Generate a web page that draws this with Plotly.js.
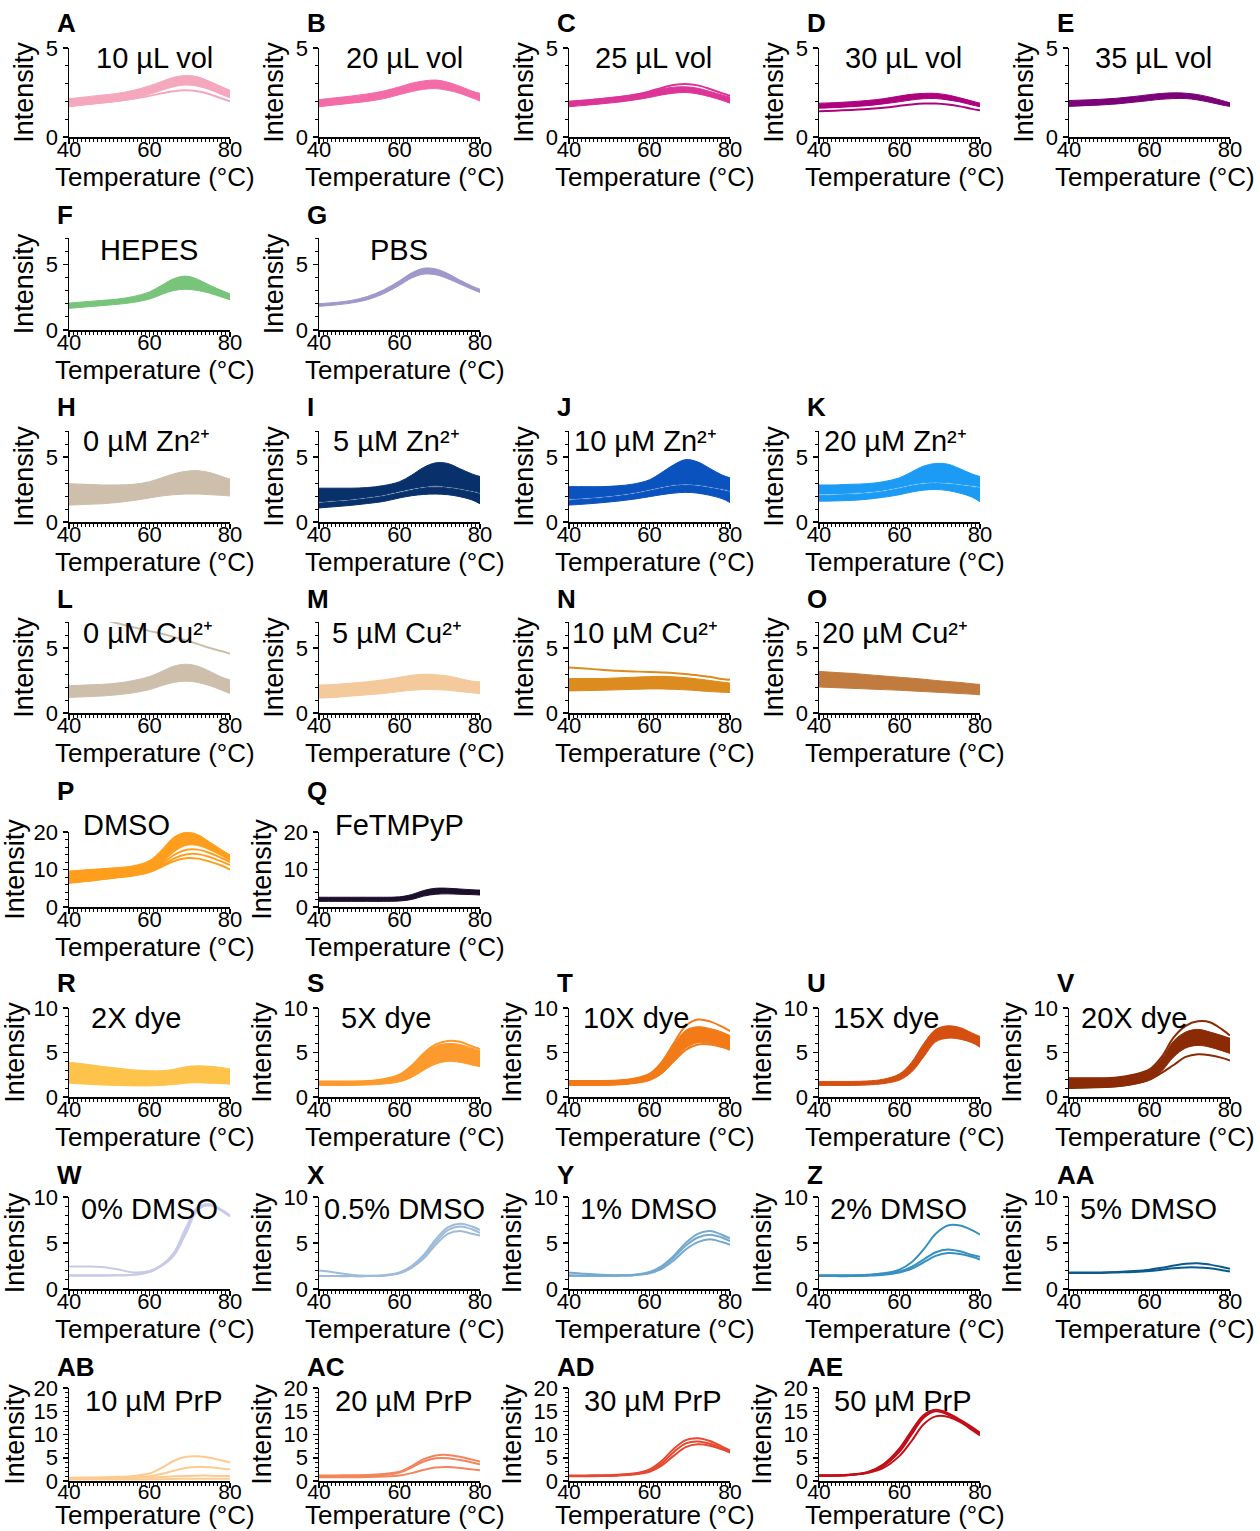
<!DOCTYPE html>
<html><head><meta charset="utf-8">
<script src="https://cdn.plot.ly/plotly-3.0.1.min.js"></script>
<style>body{margin:0;background:#fff}#chart{width:1260px;height:1531px}</style>
</head><body><div id="chart"></div>
<script>
// ---------- DATA ----------
const temps = [40,44,48,52,56,60,63,66,69,72,75,78,80];

const bandsA = [[[1.70,1.80,1.90,2.00,2.15,2.40,2.62,2.82,2.92,2.85,2.65,2.38,2.20],[2.15,2.25,2.35,2.45,2.62,2.88,3.12,3.35,3.45,3.38,3.12,2.82,2.62]]];
const linesA = [[1.78,1.86,1.94,2.03,2.15,2.31,2.45,2.57,2.62,2.57,2.40,2.16,2.00]];
const bandsB = [[[1.70,1.80,1.90,2.00,2.15,2.38,2.55,2.68,2.72,2.62,2.45,2.20,2.02],[2.10,2.20,2.30,2.42,2.58,2.82,3.02,3.15,3.20,3.08,2.85,2.58,2.45]]];
const linesB = [];
const bandsC = [[[1.70,1.78,1.86,1.95,2.07,2.22,2.36,2.46,2.50,2.42,2.26,2.06,1.90],[2.00,2.07,2.15,2.25,2.37,2.55,2.70,2.80,2.82,2.74,2.56,2.36,2.24]]];
const linesC = [[1.98,2.05,2.13,2.23,2.36,2.56,2.76,2.92,2.98,2.90,2.70,2.46,2.32]];
const bandsD = [[[1.62,1.65,1.70,1.76,1.86,1.98,2.08,2.15,2.16,2.08,1.97,1.80,1.70],[1.90,1.93,1.98,2.05,2.15,2.30,2.40,2.45,2.45,2.36,2.20,2.02,1.90]]];
const linesD = [[1.45,1.48,1.52,1.57,1.65,1.75,1.83,1.88,1.88,1.82,1.72,1.58,1.50]];
const bandsE = [[[1.72,1.76,1.80,1.86,1.95,2.05,2.12,2.16,2.16,2.08,1.95,1.80,1.72],[2.05,2.08,2.12,2.18,2.27,2.38,2.45,2.48,2.46,2.38,2.24,2.05,1.92]]];
const linesE = [];
const bandsF = [[[1.65,1.75,1.85,1.95,2.10,2.35,2.70,3.00,3.10,3.00,2.80,2.50,2.30],[2.05,2.15,2.25,2.35,2.55,2.90,3.40,3.90,4.10,3.85,3.40,3.00,2.75]]];
const linesF = [];
const bandsG = [[[1.80,1.90,2.05,2.30,2.75,3.40,3.95,4.25,4.20,3.90,3.50,3.10,2.85],[2.00,2.10,2.25,2.55,3.05,3.75,4.35,4.70,4.65,4.30,3.80,3.35,3.10]]];
const linesG = [];
const bandsH = [[[1.30,1.35,1.40,1.50,1.65,1.85,2.00,2.10,2.15,2.15,2.10,2.05,2.00],[2.95,2.90,2.85,2.85,2.90,3.10,3.40,3.70,3.90,3.95,3.80,3.50,3.30]]];
const linesH = [];
const bandsI = [[[1.08,1.18,1.28,1.42,1.58,1.85,2.02,2.12,2.15,2.10,1.95,1.70,1.40],[1.45,1.55,1.65,1.80,1.98,2.25,2.45,2.62,2.68,2.62,2.48,2.30,2.15]],
                [[1.55,1.65,1.75,1.90,2.08,2.36,2.56,2.72,2.78,2.72,2.58,2.40,2.25],[2.60,2.60,2.60,2.65,2.80,3.10,3.60,4.20,4.55,4.50,4.10,3.70,3.50]]];
const linesI = [];
const bandsJ = [[[1.30,1.38,1.48,1.60,1.75,1.95,2.10,2.22,2.28,2.22,2.05,1.80,1.50],[1.68,1.75,1.85,1.98,2.15,2.40,2.60,2.76,2.82,2.76,2.62,2.45,2.30]],
                [[1.78,1.85,1.95,2.08,2.25,2.50,2.70,2.86,2.92,2.86,2.72,2.55,2.40],[2.72,2.72,2.72,2.78,2.92,3.25,3.80,4.40,4.80,4.62,4.12,3.62,3.40]]];
const linesJ = [];
const bandsK = [[[1.60,1.62,1.66,1.75,1.90,2.10,2.30,2.45,2.50,2.42,2.22,1.92,1.55],[2.05,2.08,2.12,2.20,2.35,2.58,2.78,2.92,2.96,2.92,2.82,2.70,2.62]],
                [[2.15,2.18,2.22,2.30,2.45,2.68,2.88,3.02,3.06,3.02,2.92,2.80,2.72],[2.85,2.85,2.90,2.95,3.10,3.40,3.85,4.30,4.50,4.45,4.10,3.70,3.50]]];
const linesK = [];
const bandsL = [[[1.20,1.25,1.30,1.40,1.55,1.80,2.10,2.35,2.45,2.35,2.10,1.75,1.50],[2.10,2.15,2.20,2.30,2.50,2.80,3.20,3.60,3.75,3.60,3.20,2.75,2.55]]];
const linesL = [[7.80,7.50,7.20,6.90,6.60,6.30,6.10,5.85,5.60,5.30,5.00,4.75,4.55]];
const bandsM = [[[1.15,1.20,1.30,1.40,1.50,1.65,1.75,1.80,1.80,1.75,1.65,1.55,1.50],[2.15,2.20,2.30,2.40,2.55,2.75,2.90,2.98,2.95,2.85,2.65,2.45,2.40]]];
const linesM = [];
const bandsN = [[[1.70,1.72,1.75,1.78,1.82,1.85,1.85,1.82,1.78,1.72,1.65,1.60,1.58],[2.65,2.65,2.65,2.70,2.75,2.80,2.82,2.78,2.72,2.62,2.50,2.38,2.30]]];
const linesN = [[3.50,3.42,3.33,3.25,3.20,3.15,3.12,3.08,3.00,2.90,2.78,2.62,2.55]];
const bandsO = [[[2.00,1.95,1.90,1.85,1.80,1.75,1.70,1.65,1.60,1.55,1.50,1.45,1.40],[3.20,3.12,3.05,2.95,2.85,2.75,2.68,2.60,2.50,2.42,2.35,2.25,2.20]]];
const linesO = [];
const bandsP = [[[6.30,6.80,7.30,7.80,8.40,9.60,11.6,14.6,16.4,16.4,15.2,13.6,12.4],[9.60,9.90,10.2,10.5,11.0,12.4,15.2,18.6,19.9,19.3,17.3,15.2,13.9]]];
const linesP = [[7.00,7.40,7.80,8.20,8.70,9.60,11.4,13.8,15.2,15.3,14.4,13.0,12.0],
                [6.80,7.20,7.60,8.00,8.50,9.50,11.0,12.9,14.0,14.1,13.3,12.1,11.2],
                [6.50,6.90,7.40,7.90,8.40,9.30,10.7,12.2,13.0,12.9,12.1,11.0,10.0]];
const bandsQ = [[[1.50,1.50,1.50,1.50,1.50,1.60,2.00,2.90,3.40,3.50,3.40,3.30,3.20],[2.60,2.60,2.60,2.60,2.60,2.70,3.30,4.40,5.00,5.00,4.80,4.60,4.50]]];
const linesQ = [];
const bandsR = [[[1.55,1.45,1.35,1.30,1.25,1.25,1.30,1.40,1.55,1.60,1.55,1.50,1.45],[3.90,3.70,3.45,3.25,3.05,2.95,2.95,3.10,3.40,3.50,3.45,3.30,3.15]]];
const linesR = [];
const bandsS = [[[1.30,1.30,1.30,1.35,1.45,1.70,2.20,3.00,3.70,4.00,3.90,3.60,3.40],[1.75,1.75,1.75,1.80,2.00,2.50,3.50,4.80,5.70,6.00,5.90,5.50,5.20]]];
const linesS = [[1.75,1.75,1.75,1.80,2.00,2.50,3.50,4.90,5.90,6.30,6.20,5.70,5.40]];
const bandsT = [[[1.30,1.30,1.30,1.35,1.50,1.85,2.60,4.00,5.50,6.10,6.00,5.70,5.40],[1.80,1.80,1.80,1.85,2.05,2.60,3.80,5.80,7.50,7.90,7.70,7.30,6.90]]];
const linesT = [[1.80,1.80,1.80,1.85,2.05,2.60,3.90,6.00,8.00,8.70,8.50,7.90,7.40],
                [1.40,1.40,1.40,1.45,1.60,1.95,2.70,4.00,5.30,5.90,5.90,5.60,5.30]];
const bandsU = [[[1.30,1.30,1.30,1.35,1.50,1.90,2.80,4.50,6.20,6.60,6.50,6.10,5.60],[1.75,1.75,1.75,1.80,2.00,2.60,3.90,6.00,7.60,8.00,7.80,7.20,6.80]]];
const linesU = [];
const bandsV = [[[0.95,1.00,1.05,1.15,1.40,1.90,2.90,4.50,5.50,5.80,5.60,5.20,4.90],[2.10,2.10,2.10,2.20,2.50,3.10,4.30,6.30,7.30,7.60,7.30,6.90,6.60]]];
const linesV = [[2.10,2.10,2.10,2.20,2.50,3.10,4.50,6.70,8.00,8.50,8.40,7.60,6.90],
                [1.10,1.10,1.15,1.25,1.50,1.95,2.70,3.60,4.50,4.80,4.70,4.40,4.10]];
const bandsW = [];
const linesW = [[2.45,2.45,2.40,2.15,1.80,1.95,2.60,3.90,6.60,8.90,9.20,8.50,7.90],
                [1.45,1.45,1.45,1.50,1.55,1.85,2.50,3.60,6.00,8.60,9.10,8.60,8.00],
                [1.50,1.50,1.50,1.50,1.55,1.90,2.55,3.70,6.30,8.80,9.10,8.50,7.90]];
const bandsX = [];
const linesX = [[2.00,1.80,1.55,1.45,1.50,1.80,2.50,3.70,5.40,6.70,7.10,6.80,6.40],
                [1.45,1.40,1.40,1.40,1.45,1.75,2.40,3.50,5.10,6.40,6.80,6.50,6.10],
                [1.40,1.40,1.40,1.40,1.45,1.70,2.30,3.30,4.80,6.00,6.30,6.00,5.80]];
const bandsY = [];
const linesY = [[1.80,1.65,1.55,1.50,1.55,1.85,2.50,3.60,5.00,6.00,6.30,5.90,5.50],
                [1.50,1.45,1.45,1.45,1.50,1.75,2.35,3.40,4.70,5.60,5.90,5.60,5.20],
                [1.45,1.45,1.45,1.45,1.50,1.70,2.20,3.10,4.30,5.10,5.40,5.10,4.80]];
const bandsZ = [];
const linesZ = [[1.50,1.50,1.50,1.55,1.70,2.10,2.90,4.30,6.00,6.90,6.90,6.40,5.90],
                [1.45,1.45,1.45,1.50,1.60,1.90,2.40,3.20,4.00,4.30,4.10,3.70,3.50],
                [1.40,1.40,1.40,1.45,1.55,1.80,2.20,2.90,3.60,3.90,3.80,3.50,3.20]];
const bandsAA = [];
const linesAA = [[1.80,1.80,1.80,1.85,1.95,2.10,2.30,2.55,2.75,2.80,2.65,2.40,2.20],
                 [1.75,1.75,1.75,1.80,1.85,1.95,2.10,2.25,2.35,2.35,2.25,2.05,1.90]];
const bandsAB = [];
const linesAB = [[0.70,0.75,0.80,0.90,1.10,1.60,2.80,4.30,5.20,5.30,5.00,4.40,4.00],
                 [0.60,0.62,0.65,0.70,0.80,1.00,1.50,2.20,2.80,3.00,2.95,2.70,2.50],
                 [0.50,0.52,0.55,0.60,0.65,0.75,0.85,1.00,1.10,1.15,1.15,1.10,1.05],
                 [0.30,0.30,0.30,0.30,0.32,0.35,0.40,0.45,0.50,0.50,0.50,0.50,0.50]];
const bandsAC = [];
const linesAC = [[1.20,1.20,1.25,1.30,1.50,2.00,3.20,4.70,5.50,5.60,5.20,4.60,4.20],
                 [1.00,1.00,1.05,1.10,1.30,1.80,2.90,4.20,4.90,4.90,4.50,4.00,3.60],
                 [0.80,0.80,0.80,0.85,0.95,1.20,1.70,2.40,2.90,3.00,2.80,2.50,2.30]];
const bandsAD = [];
const linesAD = [[1.20,1.20,1.25,1.35,1.60,2.50,4.30,6.90,8.80,9.20,8.60,7.40,6.60],
                 [1.10,1.10,1.15,1.25,1.50,2.20,3.80,6.20,8.10,8.50,8.00,7.00,6.30],
                 [1.00,1.00,1.05,1.15,1.40,2.00,3.30,5.40,7.30,7.90,7.60,6.80,6.10]];
const bandsAE = [];
const linesAE = [[1.20,1.20,1.40,1.90,3.60,7.00,10.8,14.2,15.3,14.6,13.2,11.6,10.4],
                 [1.20,1.20,1.35,1.80,3.20,6.30,10.0,13.6,15.0,14.3,13.0,11.3,10.2],
                 [1.15,1.15,1.30,1.70,2.80,5.40,8.60,12.2,13.9,13.8,12.7,11.0,9.80],
                 [1.20,1.20,1.35,1.85,3.40,6.60,10.4,13.9,15.2,14.4,13.0,11.4,10.1]];

const panelLetters = ['A','B','C','D','E','F','G','H','I','J','K','L','M','N','O','P','Q','R','S','T','U','V','W','X','Y','Z','AA','AB','AC','AD','AE'];
const panelTitles = ['10 µL vol','20 µL vol','25 µL vol','30 µL vol','35 µL vol','HEPES','PBS',
  '0 µM Zn²⁺','5 µM Zn²⁺','10 µM Zn²⁺','20 µM Zn²⁺',
  '0 µM Cu²⁺','5 µM Cu²⁺','10 µM Cu²⁺','20 µM Cu²⁺',
  'DMSO','FeTMPyP','2X dye','5X dye','10X dye','15X dye','20X dye',
  '0% DMSO','0.5% DMSO','1% DMSO','2% DMSO','5% DMSO','10 µM PrP','20 µM PrP','30 µM PrP','50 µM PrP'];
const xTickVals = [40,60,80];
const xAxisTitle = 'Temperature (°C)';
const yAxisTitle = 'Intensity';

// ---------- STYLE / LAYOUT ----------
const panelData = [
  [bandsA,linesA],[bandsB,linesB],[bandsC,linesC],[bandsD,linesD],[bandsE,linesE],
  [bandsF,linesF],[bandsG,linesG],
  [bandsH,linesH],[bandsI,linesI],[bandsJ,linesJ],[bandsK,linesK],
  [bandsL,linesL],[bandsM,linesM],[bandsN,linesN],[bandsO,linesO],
  [bandsP,linesP],[bandsQ,linesQ],
  [bandsR,linesR],[bandsS,linesS],[bandsT,linesT],[bandsU,linesU],[bandsV,linesV],
  [bandsW,linesW],[bandsX,linesX],[bandsY,linesY],[bandsZ,linesZ],[bandsAA,linesAA],
  [bandsAB,linesAB],[bandsAC,linesAC],[bandsAD,linesAD],[bandsAE,linesAE]];
const colors = ['#F5A7BE','#F36CA7','#DD3497','#AE017E','#7A0177','#78C47B','#9E98CB',
  '#CDBFAC','#08306B','#0A52BE','#1C9BF5','#CDBFAC','#F4C99B','#DC8B1E','#C27B3E',
  '#FF9E1C','#1C0F2E','#FDC34B','#FD9A2E','#F27B17','#D54F10','#8B2B06',
  '#C8CAE8','#9EBCDA','#74A9CF','#3690C0','#0A5A8C','#FDCB8E','#F4845C','#E64830','#C1101A'];
const rowOf = [0,0,0,0,0,1,1,2,2,2,2,3,3,3,3,4,4,5,5,5,5,5,6,6,6,6,6,7,7,7,7];
const colOf = [0,1,2,3,4,0,1,0,1,2,3,0,1,2,3,0,1,0,1,2,3,4,0,1,2,3,4,0,1,2,3];
const rowBottom = [137,330,522,713,907,1097,1289,1481];
const rowTop = [48,238,431,622,832,1008,1197,1388];
const rowYMax = [5,7,7,7,20,10,10,20];
const rowDtick = [5,5,5,5,10,5,5,5];
const rowMinor = [1,1,1,1,2,1,1,1];
const rowTitleY = [58,250,441,633,825,1018,1209,1401];
const titleX = [154,404,653,903,1153,149,399,146,396,645,895,148,397,645,895,126,399,136,386,636,886,1134,149,404,649,898,1148,154,404,653,903];

const W = 1260, H = 1531;
const FONT = 'Liberation Sans, Arial, Helvetica, sans-serif';
const traces = [];
const layout = {
  width: W, height: H, margin: {l:0,r:0,t:0,b:0},
  paper_bgcolor:'#fff', plot_bgcolor:'#fff', showlegend:false,
  font:{family:FONT, color:'#000'}, annotations: []
};

panelData.forEach((pd, i) => {
  const r = rowOf[i], c = colOf[i];
  const ax = i === 0 ? '' : String(i + 1);
  const xa = 'x' + ax, ya = 'y' + ax;
  const col = colors[i];
  const [bands, lines] = pd;
  bands.forEach(b => {
    traces.push({x: temps, y: b[0], xaxis: xa, yaxis: ya, mode:'lines', hoverinfo:'skip',
      line:{color: col, width: 1, shape:'spline', smoothing:1}});
    traces.push({x: temps, y: b[1], xaxis: xa, yaxis: ya, mode:'lines', hoverinfo:'skip',
      fill:'tonexty', fillcolor: col, line:{color: col, width: 1, shape:'spline', smoothing:1}});
  });
  lines.forEach(l => {
    traces.push({x: temps, y: l, xaxis: xa, yaxis: ya, mode:'lines', hoverinfo:'skip',
      line:{color: col, width: 2, shape:'spline', smoothing:1}});
  });
  const x0 = 69 + 250 * c, x1 = 230 + 250 * c;
  const last = (r === 7);
  layout['xaxis' + ax] = {
    domain: [x0 / W, x1 / W], anchor: ya, range: [40, 80],
    showline: true, linecolor: '#000', linewidth: 1.5, mirror: false,
    showgrid: false, zeroline: false, ticks: 'outside', ticklen: 5, tickwidth: 1.5, tickcolor: '#000',
    tickmode: 'array', tickvals: xTickVals, ticklabelstandoff: last ? -14 : -13,
    minor: {tickmode:'linear', tick0: 40, dtick: 1, ticks: 'outside', ticklen: 3, tickwidth: 1, tickcolor: '#000', showgrid:false},
    tickfont: {size: last ? 21 : 22, color: '#000', family: FONT},
    fixedrange: true
  };
  layout['yaxis' + ax] = {
    domain: [1 - rowBottom[r] / H, 1 - rowTop[r] / H], anchor: xa, range: [0, rowYMax[r]],
    showline: true, linecolor: '#000', linewidth: 1.5, mirror: false,
    showgrid: false, zeroline: false, ticks: 'outside', ticklen: 5, tickwidth: 1.5, tickcolor: '#000',
    tick0: 0, dtick: rowDtick[r],
    minor: {tick0: 0, dtick: rowMinor[r], ticks: 'outside', ticklen: 3, tickwidth: 1, tickcolor: '#000', showgrid:false},
    tickfont: {size: 22, color: '#000', family: FONT},
    title: {text: yAxisTitle, font: {size: 27, color: '#000', family: FONT}, standoff: 4},
    fixedrange: true
  };
  // x-axis title (placed as paper text for exact position)
  layout.annotations.push({
    text: xAxisTitle, xref:'paper', yref:'paper',
    x: ((x0 + x1) / 2 + 5) / W, y: last ? 0 : 1 - (rowBottom[r] + 24) / H,
    xanchor:'center', yanchor: last ? 'bottom' : 'top', borderpad: 0,
    showarrow:false, font:{size: 26, color:'#000', family: FONT}
  });
  layout.annotations.push({
    text: '<b>' + panelLetters[i] + '</b>', xref:'paper', yref:'paper',
    x: (55 + 250 * c) / W, y: 1 - (23 + 192 * r) / H, xanchor:'left', yanchor:'middle',
    showarrow:false, font:{size: 26, color:'#000', family: FONT}
  });
  layout.annotations.push({
    text: panelTitles[i], xref:'paper', yref:'paper',
    x: titleX[i] / W, y: 1 - rowTitleY[r] / H, xanchor:'center', yanchor:'middle',
    showarrow:false, font:{size: 29, color:'#000', family: FONT}
  });
});

Plotly.newPlot('chart', traces, layout, {staticPlot: true, displayModeBar: false});
</script>
</body></html>
